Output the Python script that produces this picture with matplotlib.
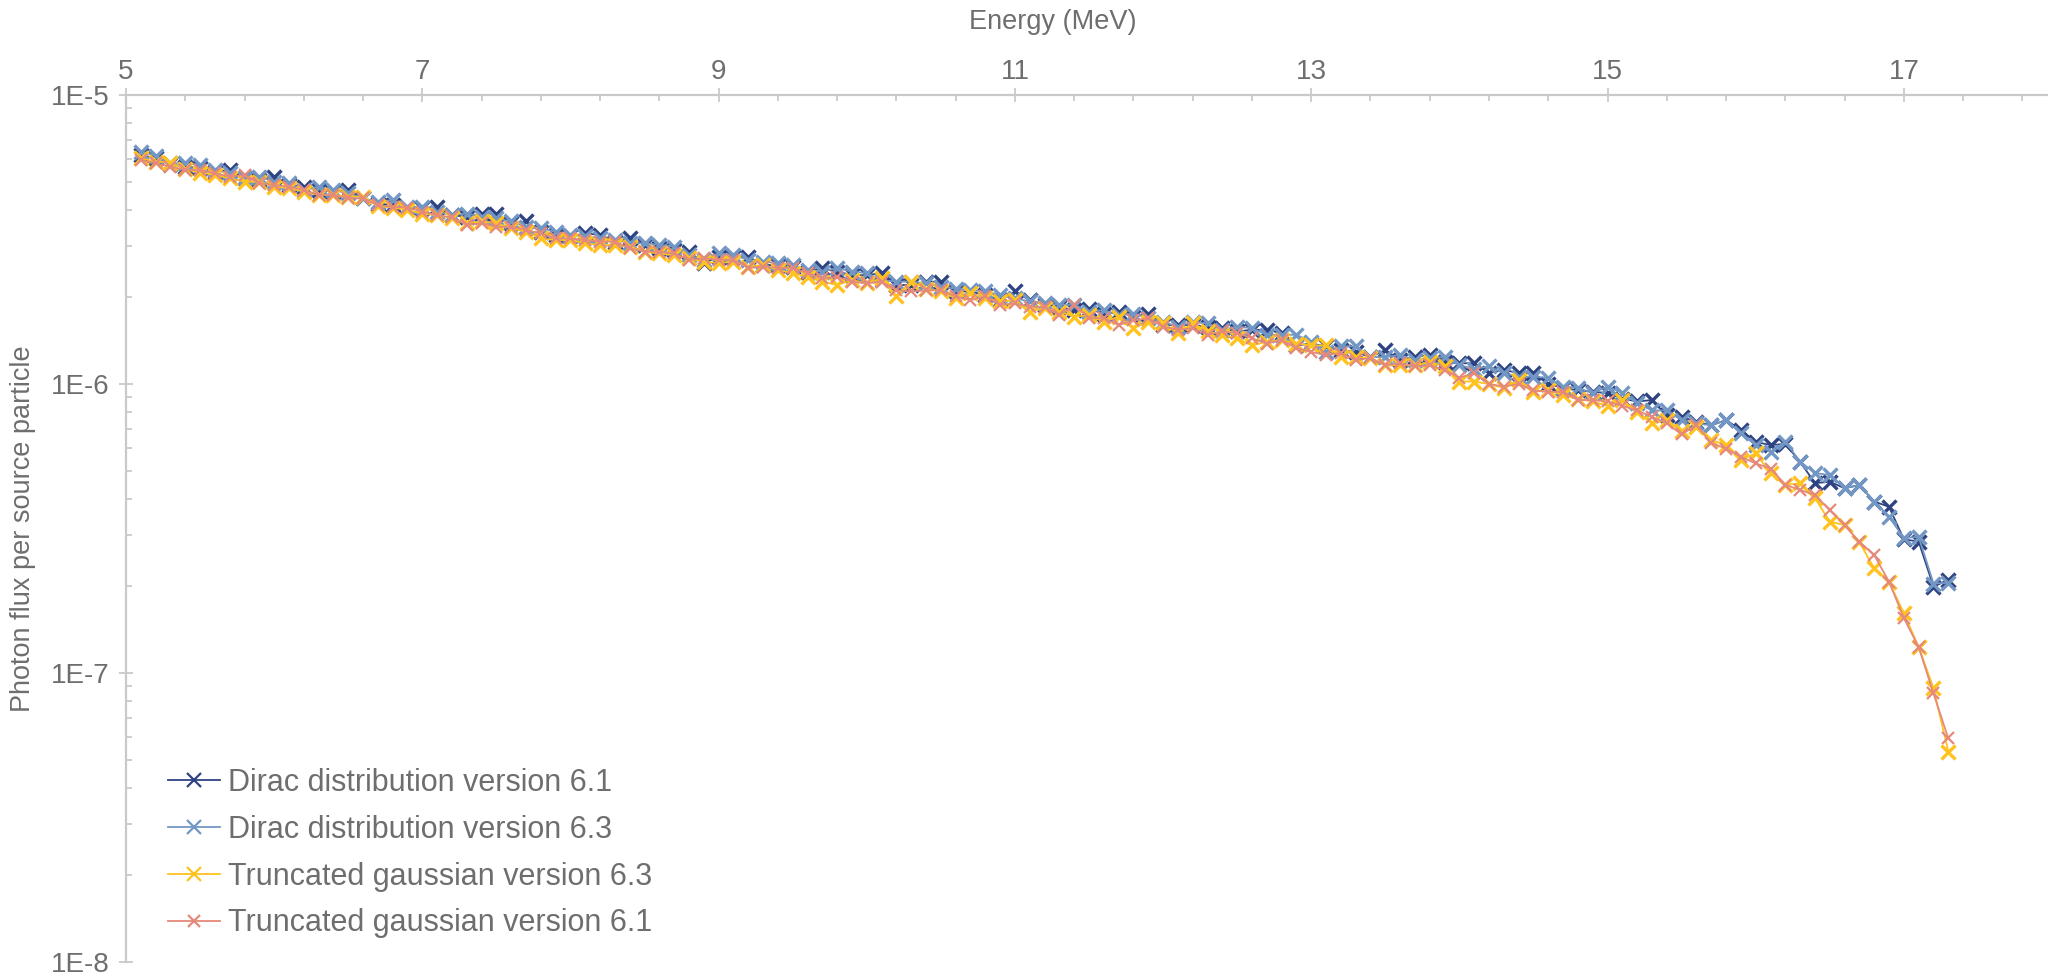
import numpy as np
import matplotlib
matplotlib.use("Agg")
import matplotlib.pyplot as plt
from matplotlib.ticker import FixedLocator, LogLocator, NullFormatter, FuncFormatter

plt.rcParams['font.family'] = ['Liberation Sans', 'DejaVu Sans']

# Photon energy bins (MeV), 0.1 MeV wide, 5.1 ... 17.3
energy = np.round(np.arange(51, 174) * 0.1, 1)

# Photon flux per source particle, in units of 1E-6
dirac_61 = [
    6.20, 6.04, 5.75, 5.65, 5.58, 5.43, 5.50, 5.15, 5.08, 5.22,
    4.88, 4.82, 4.69, 4.63, 4.69, 4.39, 4.21, 4.16, 4.05, 4.05,
    4.10, 3.84, 3.79, 3.89, 3.89, 3.60, 3.65, 3.36, 3.28, 3.24,
    3.32, 3.28, 3.11, 3.19, 3.03, 2.95, 2.91, 2.87, 2.62, 2.76,
    2.76, 2.76, 2.58, 2.58, 2.55, 2.45, 2.52, 2.45, 2.38, 2.38,
    2.42, 2.20, 2.20, 2.26, 2.26, 2.09, 2.09, 2.03, 1.95, 2.09,
    1.95, 1.88, 1.85, 1.80, 1.82, 1.75, 1.78, 1.71, 1.75, 1.60,
    1.60, 1.60, 1.58, 1.56, 1.52, 1.54, 1.54, 1.50, 1.36, 1.38,
    1.35, 1.31, 1.29, 1.24, 1.31, 1.21, 1.24, 1.26, 1.19, 1.18,
    1.18, 1.09, 1.12, 1.09, 1.09, 1.00, 0.97, 0.95, 0.94, 0.93,
    0.89, 0.87, 0.88, 0.78, 0.77, 0.74, 0.72, 0.75, 0.693, 0.63,
    0.615, 0.62, 0.538, 0.454, 0.459, 0.436, 0.447, 0.392, 0.376, 0.29,
    0.285, 0.199, 0.21,
]
dirac_63 = [
    6.37, 6.16, 5.80, 5.80, 5.73, 5.50, 5.36, 5.15, 5.22, 5.01,
    4.95, 4.69, 4.82, 4.69, 4.57, 4.39, 4.27, 4.33, 4.10, 4.10,
    3.95, 3.84, 3.89, 3.79, 3.74, 3.65, 3.50, 3.46, 3.36, 3.28,
    3.24, 3.19, 3.15, 3.07, 3.07, 3.03, 2.99, 2.79, 2.69, 2.83,
    2.79, 2.69, 2.65, 2.62, 2.58, 2.48, 2.45, 2.52, 2.45, 2.42,
    2.29, 2.26, 2.26, 2.23, 2.17, 2.14, 2.11, 2.09, 2.03, 1.98,
    1.93, 1.90, 1.88, 1.88, 1.78, 1.80, 1.73, 1.75, 1.69, 1.64,
    1.58, 1.64, 1.62, 1.54, 1.58, 1.56, 1.48, 1.48, 1.48, 1.40,
    1.29, 1.35, 1.35, 1.24, 1.24, 1.26, 1.21, 1.23, 1.24, 1.16,
    1.13, 1.15, 1.09, 1.06, 1.06, 1.05, 0.98, 0.97, 0.93, 0.98,
    0.93, 0.86, 0.81, 0.81, 0.75, 0.73, 0.72, 0.75, 0.676, 0.615,
    0.583, 0.631, 0.538, 0.492, 0.484, 0.436, 0.447, 0.392, 0.347, 0.293,
    0.296, 0.204, 0.205,
]
trunc_63 = [
    6.04, 5.88, 5.84, 5.53, 5.39, 5.29, 5.15, 5.01, 5.01, 4.82,
    4.76, 4.63, 4.51, 4.51, 4.45, 4.45, 4.13, 4.08, 4.00, 3.89,
    3.84, 3.74, 3.60, 3.65, 3.60, 3.46, 3.36, 3.19, 3.15, 3.15,
    3.07, 3.03, 3.03, 2.99, 2.87, 2.83, 2.79, 2.72, 2.65, 2.62,
    2.65, 2.55, 2.58, 2.48, 2.42, 2.35, 2.26, 2.20, 2.29, 2.23,
    2.32, 2.01, 2.26, 2.14, 2.09, 1.98, 2.06, 1.98, 1.93, 1.95,
    1.78, 1.83, 1.78, 1.71, 1.73, 1.64, 1.71, 1.56, 1.64, 1.62,
    1.50, 1.62, 1.52, 1.48, 1.44, 1.36, 1.40, 1.42, 1.38, 1.36,
    1.36, 1.24, 1.24, 1.23, 1.16, 1.16, 1.16, 1.19, 1.15, 1.02,
    1.02, 1.00, 0.97, 1.03, 0.94, 0.95, 0.916, 0.89, 0.87, 0.84,
    0.88, 0.80, 0.73, 0.75, 0.69, 0.71, 0.64, 0.615, 0.545, 0.576,
    0.491, 0.448, 0.453, 0.403, 0.334, 0.325, 0.284, 0.23, 0.207, 0.161,
    0.123, 0.0887, 0.0535,
]
trunc_61 = [
    5.96, 5.80, 5.65, 5.50, 5.50, 5.36, 5.22, 5.29, 4.95, 4.88,
    4.82, 4.69, 4.51, 4.51, 4.39, 4.39, 4.16, 4.10, 4.08, 3.95,
    3.84, 3.77, 3.55, 3.60, 3.50, 3.50, 3.41, 3.32, 3.19, 3.19,
    3.15, 3.11, 3.11, 2.95, 2.87, 2.87, 2.83, 2.69, 2.72, 2.69,
    2.69, 2.52, 2.55, 2.52, 2.52, 2.42, 2.32, 2.35, 2.26, 2.23,
    2.26, 2.11, 2.09, 2.11, 2.11, 2.01, 1.95, 2.01, 1.88, 1.90,
    1.85, 1.85, 1.73, 1.88, 1.69, 1.69, 1.60, 1.66, 1.69, 1.58,
    1.54, 1.56, 1.48, 1.52, 1.50, 1.44, 1.38, 1.42, 1.33, 1.29,
    1.26, 1.28, 1.21, 1.23, 1.16, 1.18, 1.15, 1.16, 1.12, 1.05,
    1.09, 1.00, 0.98, 1.00, 0.95, 0.94, 0.94, 0.88, 0.88, 0.87,
    0.84, 0.81, 0.77, 0.73, 0.67, 0.72, 0.624, 0.598, 0.56, 0.531,
    0.51, 0.448, 0.43, 0.413, 0.366, 0.325, 0.284, 0.256, 0.207, 0.155,
    0.123, 0.085, 0.0594,
]

series_labels = [
    "Dirac distribution version 6.1",
    "Dirac distribution version 6.3",
    "Truncated gaussian version 6.3",
    "Truncated gaussian version 6.1",
]
series_values = [dirac_61, dirac_63, trunc_63, trunc_61]
series_colors = ["#2E4381", "#7397C4", "#FFC21F", "#E5897B"]
marker_sizes = [10, 10, 10, 9]
marker_widths = [2.4, 2.4, 2.4, 1.6]

x_major = [5, 7, 9, 11, 13, 15, 17]
x_limits = (5, 18)
y_limits = (1e-8, 1e-5)

TEXT = "#6E6E6E"
AXIS = "#C9C9C9"

W, H = 2048, 980
fig = plt.figure(figsize=(W / 100, H / 100), dpi=100)
ax = fig.add_axes([126 / W, 1 - 962 / H, (2052 - 126) / W, (962 - 95) / H])

for vals, lab, col, ms, mw in zip(series_values, series_labels, series_colors,
                                  marker_sizes, marker_widths):
    ax.plot(energy, np.asarray(vals) * 1e-6, color=col, lw=1.3, marker="x",
            ms=ms, mew=mw, label=lab, clip_on=False)

ax.set_yscale("log")
ax.set_xlim(*x_limits)
ax.set_ylim(*y_limits)

# Energy axis along the top
ax.xaxis.tick_top()
ax.xaxis.set_major_locator(FixedLocator(x_major))
ax.xaxis.set_minor_locator(FixedLocator(np.arange(5, 18.01, 0.4)))
ax.xaxis.set_major_formatter(FuncFormatter(lambda v, p: f"{v:g}"))

ax.yaxis.set_major_locator(LogLocator(base=10, numticks=10))
ax.yaxis.set_minor_locator(LogLocator(base=10, subs=np.arange(2, 10), numticks=20))
ax.yaxis.set_minor_formatter(NullFormatter())
ax.yaxis.set_major_formatter(FuncFormatter(lambda v, p: f"1E{int(round(np.log10(v)))}"))

for s in ("bottom", "right"):
    ax.spines[s].set_visible(False)
for s in ("top", "left"):
    ax.spines[s].set_color(AXIS)
    ax.spines[s].set_linewidth(1.6)

ax.tick_params(which="major", direction="inout", length=10, width=1.3,
               color=AXIS, labelcolor=TEXT, labelsize=20)
ax.tick_params(axis="x", which="major", pad=2)
ax.tick_params(axis="y", which="major", pad=7)
ax.tick_params(which="minor", direction="in", length=4, width=1.3, color=AXIS)

fig.text(1053 / W, 1 - 22 / H, "Energy (MeV)", ha="center", va="center",
         color=TEXT, fontsize=19.5)
fig.text(23 / W, 1 - 529 / H, "Photon flux per source particle", ha="center",
         va="center", rotation=90, color=TEXT, fontsize=19.5)

leg = ax.legend(loc="upper left", bbox_to_anchor=(168 / W, 1 - 768 / H),
                bbox_transform=fig.transFigure, frameon=False, fontsize=22,
                handlelength=1.7, handletextpad=0.25, labelspacing=0.55,
                borderpad=0, borderaxespad=0)
for t in leg.get_texts():
    t.set_color(TEXT)
for h in leg.get_lines():
    h.set_markeredgewidth(1.6)
    h.set_linewidth(1.3)

fig.savefig("out.png", dpi=100, facecolor="white")
